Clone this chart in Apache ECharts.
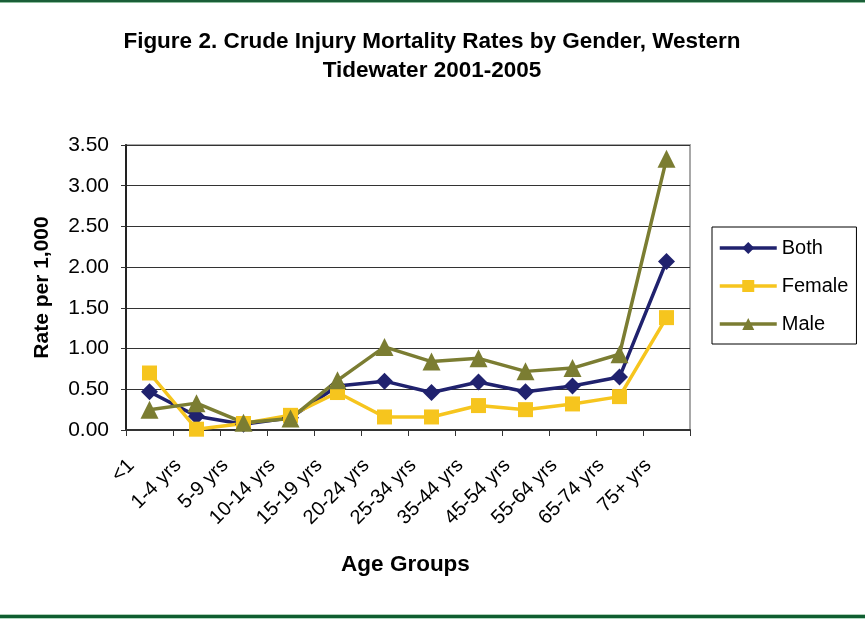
<!DOCTYPE html>
<html><head><meta charset="utf-8">
<script src="https://cdn.jsdelivr.net/npm/echarts@6/dist/echarts.min.js"></script>
<style>html,body{margin:0;padding:0;background:#fff}#c{width:865px;height:624px}</style>
</head><body><div id="c"></div>
<script>
var categories = ['<1','1-4 yrs','5-9 yrs','10-14 yrs','15-19 yrs','20-24 yrs','25-34 yrs','35-44 yrs','45-54 yrs','55-64 yrs','65-74 yrs','75+ yrs'];
var both =   [0.47, 0.17, 0.07, 0.15, 0.54, 0.60, 0.46, 0.59, 0.47, 0.54, 0.65, 2.07];
var female = [0.70, 0.01, 0.08, 0.18, 0.46, 0.16, 0.16, 0.30, 0.25, 0.32, 0.41, 1.38];
var male =   [0.25, 0.33, 0.09, 0.14, 0.61, 1.02, 0.84, 0.88, 0.72, 0.76, 0.93, 3.33];
var yTicks = [0, 3.5, 0.5];

var chart = echarts.init(document.getElementById('c'));
var font = 'Arial, "Liberation Sans", sans-serif';
function ser(name, data, color, symbol, size) {
  return {name: name, type: 'line', data: data, symbol: symbol, symbolSize: size,
    lineStyle: {color: color, width: 3.5}, itemStyle: {color: color}, z: 3};
}
chart.setOption({
  animation: false,
  backgroundColor: '#fff',
  title: {
    text: 'Figure 2. Crude Injury Mortality Rates by Gender, Western\nTidewater 2001-2005',
    left: 432, top: 27, textAlign: 'center', padding: 0,
    textStyle: {fontFamily: font, fontWeight: 'bold', fontSize: 22.5, lineHeight: 29, color: '#000'}
  },
  grid: {left: 126, right: 175, top: 145, bottom: 194, show: true, borderColor: '#a8a8a8', borderWidth: 2},
  legend: {
    orient: 'vertical', left: 712, top: 227,
    padding: [11, 8, 10, 6], itemGap: 18, itemWidth: 57, itemHeight: 15,
    borderColor: '#000', borderWidth: 1,
    lineStyle: {width: 3.5},
    textStyle: {fontFamily: font, fontSize: 20, color: '#000'},
    data: ['Both', 'Female', 'Male']
  },
  xAxis: {
    type: 'category', data: categories, boundaryGap: true,
    name: 'Age Groups', nameLocation: 'middle', nameGap: 123,
    nameTextStyle: {fontFamily: font, fontWeight: 'bold', fontSize: 22.5, color: '#000', padding: [0, 5, 0, 0]},
    axisLine: {lineStyle: {color: '#333', width: 2}},
    axisTick: {show: true, length: 6, lineStyle: {color: '#333'}},
    axisLabel: {rotate: 45, fontFamily: font, fontSize: 20, color: '#000', margin: 14, interval: 0, padding: [0, 26, 0, 0]}
  },
  yAxis: {
    type: 'value', min: yTicks[0], max: yTicks[1], interval: yTicks[2],
    name: 'Rate per 1,000', nameLocation: 'middle', nameGap: 73,
    nameTextStyle: {fontFamily: font, fontWeight: 'bold', fontSize: 21, color: '#000'},
    axisLine: {show: true, lineStyle: {color: '#222', width: 2}},
    axisTick: {show: true, length: 5, lineStyle: {color: '#333'}},
    axisLabel: {fontFamily: font, fontSize: 21, color: '#000', margin: 17, formatter: function(v){return v.toFixed(2);}},
    splitLine: {lineStyle: {color: '#333', width: 1}}
  },
  graphic: [
    {type: 'rect', shape: {x: 0, y: 0, width: 865, height: 2}, style: {fill: '#1a5e38'}},
    {type: 'rect', shape: {x: 0, y: 2, width: 865, height: 1}, style: {fill: '#8fbf9f'}},
    {type: 'rect', shape: {x: 0, y: 614, width: 865, height: 1}, style: {fill: '#b0d0b8'}},
    {type: 'rect', shape: {x: 0, y: 615, width: 865, height: 3}, style: {fill: '#0f5e30'}},
    {type: 'rect', shape: {x: 0, y: 618, width: 865, height: 1}, style: {fill: '#b0d8c0'}}
  ],
  series: [
    ser('Both', both, '#20226E', 'diamond', 17),
    ser('Female', female, '#F6C51E', 'rect', 15),
    ser('Male', male, '#7B7D32', 'triangle', 18)
  ]
});
</script></body></html>
